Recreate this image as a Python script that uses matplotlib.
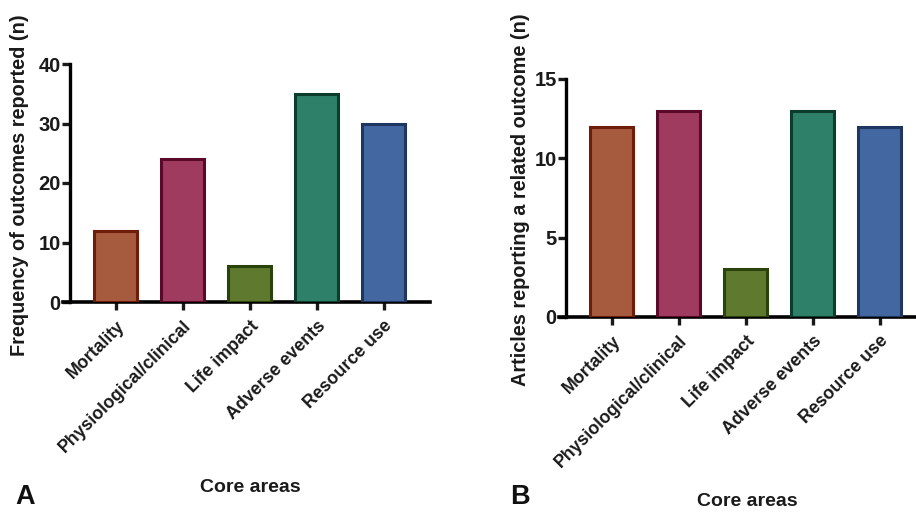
import matplotlib
matplotlib.use("Agg")
import matplotlib.pyplot as plt

plt.rcParams['font.family'] = ['Liberation Sans', 'DejaVu Sans']
plt.rcParams['font.weight'] = 'bold'

categories = ["Mortality", "Physiological/clinical", "Life impact", "Adverse events", "Resource use"]
outcome_freq = [12, 24, 6, 35, 30]
articles_n = [12, 13, 3, 13, 12]
fill_colors = ["#A65A3E", "#9E3B5E", "#5F7A2E", "#2E8068", "#4367A0"]
edge_colors = ["#6E1E08", "#5A0A28", "#2A420C", "#0C3C2C", "#1E3660"]


def draw_panel(ax, values, ymax, yticks):
    x = range(len(values))
    ax.bar(x, values, width=0.64, color=fill_colors, edgecolor=edge_colors, linewidth=2.2, zorder=3)
    ax.set_xlim(-0.79, 4.69)
    ax.set_ylim(0, ymax)
    ax.set_yticks(yticks)
    ax.set_xticks(list(x))
    ax.set_xticklabels(categories, rotation=45, ha='right', rotation_mode='anchor', fontsize=12.8)
    for side in ['top', 'right']:
        ax.spines[side].set_visible(False)
    ax.spines['left'].set_position(('data', -0.69))
    ax.spines['left'].set_linewidth(2.4)
    ax.spines['bottom'].set_linewidth(2.6)
    ax.spines['left'].set_bounds(0, ymax)
    ax.tick_params(axis='both', width=2.4, length=6, colors='#1a1a1a')
    ax.tick_params(axis='y', labelsize=14.5, pad=0.5)
    ax.tick_params(axis='x', pad=5)
    ax.patch.set_visible(False)


fig = plt.figure(figsize=(9.16, 5.12), dpi=100)

ax_a = fig.add_axes([63 / 916, 210 / 512, 367 / 916, 238 / 512])
draw_panel(ax_a, outcome_freq, 40, [0, 10, 20, 30, 40])

ax_b = fig.add_axes([559 / 916, 195 / 512, 367 / 916, 238 / 512])
draw_panel(ax_b, articles_n, 15, [0, 5, 10, 15])

fig.text(20 / 916, 1 - 185 / 512, "Frequency of outcomes reported (n)", rotation=90,
         ha='center', va='center', fontsize=14.3, color='#1a1a1a')
fig.text(520 / 916, 1 - 200 / 512, "Articles reporting a related outcome (n)", rotation=90,
         ha='center', va='center', fontsize=14.3, color='#1a1a1a')
fig.text(250 / 916, 1 - 488 / 512, "Core areas", ha='center', va='center', fontsize=14, color='#1a1a1a')
fig.text(747 / 916, 1 - 502 / 512, "Core areas", ha='center', va='center', fontsize=14, color='#1a1a1a')
fig.text(25 / 916, 1 - 504 / 512, "A", ha='center', va='baseline', fontsize=19.5, color='#111111')
fig.text(520 / 916, 1 - 504 / 512, "B", ha='center', va='baseline', fontsize=19.5, color='#111111')

fig.savefig("out.png", dpi=100)
plt.close(fig)
